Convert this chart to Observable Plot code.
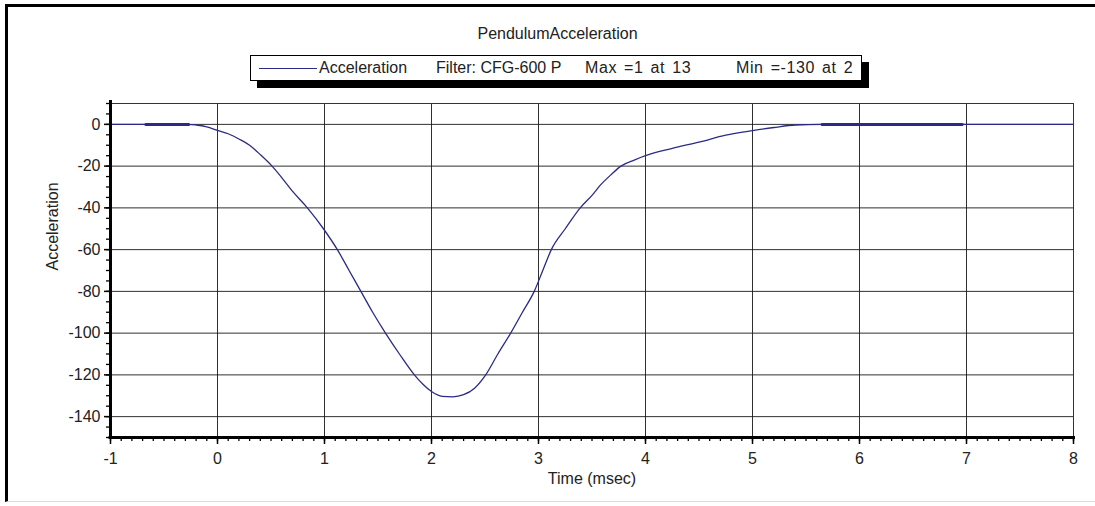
<!DOCTYPE html>
<html>
<head>
<meta charset="utf-8">
<script src="https://cdn.jsdelivr.net/npm/d3@7"></script>
<script src="https://cdn.jsdelivr.net/npm/@observablehq/plot@0.6"></script>
<style>
  body { margin: 0; background: #fff; font-family: "Liberation Sans", Arial, sans-serif; }
  #wrap { position: relative; width: 1095px; height: 506px; overflow: hidden; background: #fff; }
  #frame { position: absolute; left: 5px; top: 4px; width: 1100px; height: 498px; border-left: 3px solid #000; border-top: 3px solid #000; border-bottom: 1px solid #ddd; box-sizing: border-box; }
  #title { position: absolute; top: 25px; left: 0; width: 1115px; text-align: center; font-size: 16px; color: #222; }
  #legend { position: absolute; left: 250px; top: 55px; width: 612px; height: 26px; border: 1px solid #000; background: #fff; box-shadow: 7px 7px 0 #000; box-sizing: border-box; }
  #legend .li { position: absolute; top: 3px; font-size: 16px; color: #222; white-space: nowrap; }
  #legend .wide { word-spacing: 2px; letter-spacing: 0.6px; }
  #legend .sw { position: absolute; top: 12px; height: 0; border-top: 1.3px solid #2b2b85; }
  #chart { position: absolute; left: 0; top: 0; }
</style>
</head>
<body>
<div id="wrap">
  <div id="frame"></div>
  <div id="chart"></div>
  <div id="title"></div>
  <div id="legend"></div>
</div>
<script>
// ---- data ----
const chartTitle = "PendulumAcceleration";
const seriesName = "Acceleration";
const legendNotes = ["Filter: CFG-600 P", "Max =1 at 13", "Min =-130 at 2"];
const xTitle = "Time (msec)";
const yTitle = "Acceleration";

const time = [-1, -0.67, -0.27, -0.2, -0.1, 0, 0.1, 0.2, 0.3, 0.4, 0.51, 0.6, 0.7, 0.84, 0.99, 1.12, 1.23, 1.34, 1.45, 1.57, 1.7, 1.84, 1.92, 2.0, 2.1, 2.2, 2.3, 2.4, 2.5, 2.62, 2.74, 2.85, 2.96, 3.04, 3.12, 3.25, 3.39, 3.5, 3.58, 3.68, 3.77, 3.9, 4.0, 4.25, 4.5, 4.75, 5.0, 5.2, 5.4, 5.65, 6.96, 8];
const accel = [0, 0, 0, -0.3, -1.2, -2.9, -4.5, -7, -10, -14.5, -20, -25.5, -32, -40, -50, -60, -70, -80, -90, -100, -110, -120, -124.5, -128, -130.3, -130.5, -129.5, -126.5, -120.5, -110, -100, -90, -80, -70, -60, -50, -40, -34, -29, -24, -20, -17, -15, -11.5, -8.5, -5.2, -3, -1.5, -0.3, 0, 0, 0];

// overlapping flat stretches drawn heavier in the original
const flatFrom = [-0.67, 5.65];
const flatTo = [-0.27, 6.96];
const flatLevel = [0, 0];

const xMajor = [-1, 0, 1, 2, 3, 4, 5, 6, 7, 8];
const yMajor = [0, -20, -40, -60, -80, -100, -120, -140];
const xDomain = [-1, 8];
const yDomain = [-150, 10];

// ---- build ----
const series = time.map((t, i) => ({t, a: accel[i]}));
const flats = flatFrom.flatMap((f, i) => [{t: f, a: flatLevel[i], k: i}, {t: flatTo[i], a: flatLevel[i], k: i}]);
const xMinor = d3.range(xDomain[0] * 10, xDomain[1] * 10 + 1).map(d => d / 10);
const yMinor = d3.range(yDomain[0], yDomain[1] + 1, 5);

const lineColor = "#2b2b85";

const chart = Plot.plot({
  width: 1095,
  height: 506,
  marginLeft: 110,
  marginRight: 22,
  marginTop: 103,
  marginBottom: 69,
  style: {fontFamily: "'Liberation Sans', Arial, sans-serif", fontSize: "16px", color: "#222", background: "transparent"},
  x: {domain: xDomain},
  y: {domain: yDomain},
  marks: [
    Plot.gridX(xMajor, {stroke: "#1a1a1a", strokeOpacity: 0.9, strokeWidth: 1}),
    Plot.gridY(yMajor, {stroke: "#1a1a1a", strokeOpacity: 0.9, strokeWidth: 1}),
    Plot.frame({stroke: "#333", strokeWidth: 1}),
    Plot.line(series, {x: "t", y: "a", stroke: lineColor, strokeWidth: 1.3, curve: "monotone-x"}),
    Plot.line(flats, {x: "t", y: "a", z: "k", stroke: lineColor, strokeWidth: 3}),
    Plot.axisX(xMinor, {tickSize: 4, tickFormat: () => "", label: null, stroke: "#000", strokeWidth: 1.3}),
    Plot.axisX(xMajor, {tickSize: 7, tickPadding: 8, tickFormat: d => String(d), label: null, stroke: "#000", strokeWidth: 1.5}),
    Plot.axisY(yMinor, {tickSize: 4, tickFormat: () => "", label: null, stroke: "#000", strokeWidth: 1.3}),
    Plot.axisY(yMajor, {tickSize: 6, tickPadding: 4, tickFormat: d => String(d), label: null, stroke: "#000", strokeWidth: 1.5}),
    Plot.ruleX([xDomain[0]], {stroke: "#000", strokeWidth: 3, insetTop: -3, insetBottom: -1.5}),
    Plot.ruleY([yDomain[0]], {stroke: "#000", strokeWidth: 3, insetLeft: -1.5, insetRight: -2}),
    Plot.text([yTitle], {frameAnchor: "left", rotate: -90, dx: -58, fill: "#222"}),
    Plot.text([xTitle], {frameAnchor: "bottom", dy: 46, fill: "#222"})
  ]
});
document.getElementById("chart").appendChild(chart);

// title and legend
document.getElementById("title").textContent = chartTitle;
const legend = document.getElementById("legend");
const sw = document.createElement("div");
sw.className = "sw";
sw.style.left = "8px";
sw.style.width = "58px";
legend.appendChild(sw);
const items = [seriesName, ...legendNotes];
const lefts = [68, 185, 334, 485];
items.forEach((txt, i) => {
  const s = document.createElement("span");
  s.className = "li" + (i >= 2 ? " wide" : "");
  s.style.left = lefts[i] + "px";
  s.textContent = txt;
  legend.appendChild(s);
});
</script>
</body>
</html>
